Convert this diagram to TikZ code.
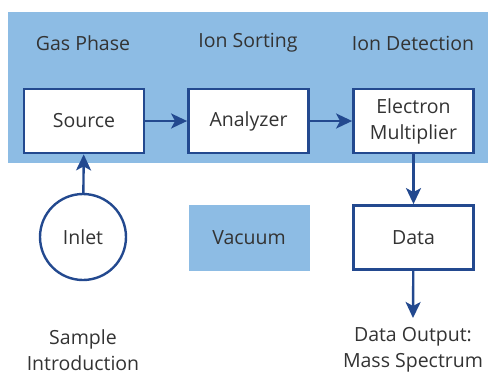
\documentclass[tikz,border=0pt]{standalone}
\usepackage{fontspec}
\setmainfont{Open Sans}
\usetikzlibrary{arrows.meta}
\definecolor{bandblue}{HTML}{8DBCE4}
\definecolor{linkblue}{HTML}{23498F}
\definecolor{txt}{HTML}{333333}
\tikzset{
  box/.style={draw=linkblue, line width=2.8pt, fill=white, minimum width=120pt, minimum height=64pt, inner sep=0pt, align=center, text=txt, font=\fontsize{19.5}{26}\selectfont},
  lbl/.style={text=txt, align=center, font=\fontsize{19.5}{26}\selectfont, inner sep=0pt},
  link/.style={draw=linkblue, line width=2.4pt, -{Stealth[length=16pt,width=15pt,inset=4pt]}}
}
\begin{document}
\begin{tikzpicture}[x=1pt,y=-1pt]
\useasboundingbox (0,0) rectangle (488,376);
\fill[bandblue] (8,12) rectangle (488,163);
\node[lbl] (h1) at (83,43) {Gas Phase};
\node[lbl] (h2) at (248,43) {Ion Sorting};
\node[lbl] (h3) at (413,43) {Ion Detection};
\node[box] (src) at (84,121) {Source};
\node[box] (ana) at (248.5,121) {Analyzer};
\node[box] (em) at (413.5,121) {Electron\\Multiplier};
\node[draw=linkblue, line width=2.4pt, circle, minimum size=86pt, inner sep=0pt, text=txt, font=\fontsize{19.5}{23}\selectfont] (inlet) at (83,237) {Inlet};
\node[fill=bandblue, minimum width=121pt, minimum height=66pt, inner sep=0pt, text=txt, font=\fontsize{19.5}{23}\selectfont] (vac) at (249,237.5) {Vacuum};
\node[box] (data) at (413.5,237.5) {Data};
\node[lbl] (si) at (83,350) {Sample\\Introduction};
\node[lbl] (out) at (413,350) {Data Output:\\Mass Spectrum};
\coordinate (outtip) at (413,318);
\draw[link] (src) -- (ana);
\draw[link] (ana) -- (em);
\draw[link] (inlet) -- (src);
\draw[link] (em) -- (data);
\draw[link] (data) -- (outtip);
\end{tikzpicture}
\end{document}
